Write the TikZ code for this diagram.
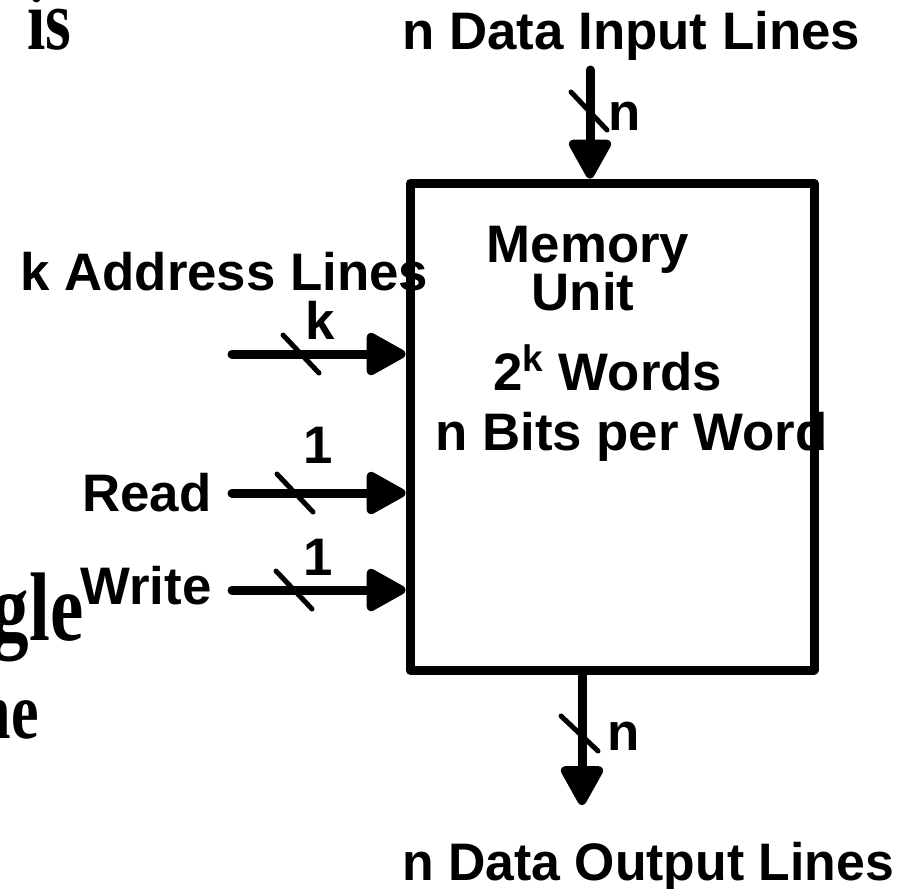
\documentclass[tikz,border=0pt]{standalone}
\usepackage{fontspec}
\setmainfont{Liberation Sans}
\newfontfamily\slidefont{Liberation Serif}
\usetikzlibrary{arrows.meta}
\tikzset{
	bus/.style={line width=4.5pt, -{Triangle[width=23pt,length=22pt,round]}},
	tick/.style={line width=2.5pt},
	lbl/.style={font=\fontsize{26.4}{30}\selectfont\bfseries, inner sep=0pt},
	slide/.style={font=\slidefont\bfseries, inner sep=0pt, anchor=base east}
}
\newcommand\tall[2]{{\fontsize{#1}{#1}\selectfont\scalebox{1}[1.3]{#2}}}
\begin{document}
\begin{tikzpicture}[x=.5pt, y=-.5pt, line join=round, line cap=round]
			\useasboundingbox (0,0) rectangle (912,889);
			% text of the slide behind
			\node[slide] (fragis) at (72,49) {\tall{33}{is}};
			\node[slide] (fraggle) at (84,640) {\tall{37.5}{gle}};
			\node[slide] (fragne) at (39,738) {\tall{31}{ne}};
			% memory box
			\node[draw, line width=4.5pt, minimum width=202pt, minimum height=243.5pt, inner sep=0pt] (mem) at (612,426.5) {};
			\node[lbl, anchor=base] (memtxt) at (588,262) {Memory};
			\node[lbl, anchor=base] (unittxt) at (583,310) {Unit};
			\node[lbl, anchor=base west] (words) at (493,390) {2\textsuperscript{k} Words};
			\node[lbl, anchor=base west] (bits) at (435,450) {n Bits per Word};
			% data in and out
			\coordinate (din) at (590,70);
			\coordinate (dout) at (582,805);
			\draw[bus] (din) -- (din |- mem.north);
			\draw[bus] (dout |- mem.south) -- (dout);
			\draw[tick] (571,92) -- (607,130) (561,716) -- (598,751);
			\node[lbl, anchor=base west] (nin) at (608,130) {n};
			\node[lbl, anchor=base west] (nout) at (607,750) {n};
			\node[lbl, anchor=base west] (dintxt) at (402,49) {n Data Input Lines};
			\node[lbl, anchor=base west] (douttxt) at (402,880) {\scalebox{.98}[1]{n Data Output Lines}};
			% address, read and write
			\foreach \s/\y/\c in {addr/354/301, rd/493/295, wr/590/294}{
				\coordinate (\s) at (232,\y);
				\draw[bus] (\s) -- (\s -| mem.west);
				\draw[tick] (\c-18,\y-19) -- (\c+18,\y+19);
			}
			\node[lbl] (ktxt) at (320,320) {k};
			\node[lbl] (onerd) at (318,445) {1};
			\node[lbl] (onewr) at (318,557) {1};
			\node[lbl, anchor=base west] (addrtxt) at (20,290) {k Address Lines};
			\node[lbl, left=10pt] (rdtxt) at (rd) {Read};
			\node[lbl, left=10pt] (wrtxt) at ([yshift=2]wr) {Write};
\end{tikzpicture}
\end{document}
